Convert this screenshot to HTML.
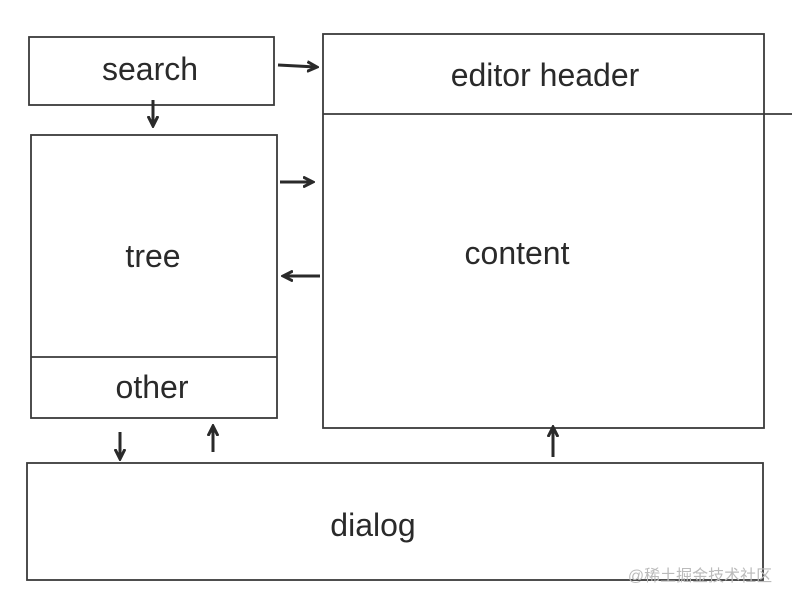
<!DOCTYPE html>
<html><head><meta charset="utf-8"><style>
html,body{margin:0;padding:0;background:#fff;}
svg{display:block}
text{font-family:"Liberation Sans","DejaVu Sans",sans-serif;fill:#2a2a2a;}
</style></head><body>
<svg width="792" height="602" viewBox="0 0 792 602" xmlns="http://www.w3.org/2000/svg">
<defs>
<marker id="a" markerWidth="12" markerHeight="12" refX="9" refY="6" orient="auto" markerUnits="userSpaceOnUse">
<path d="M0,1 L10,6 L0,11" fill="none" stroke="#2a2a2a" stroke-width="3"/></marker>
</defs>
<g fill="none" stroke="#3a3a3a" stroke-width="1.8">
<rect x="29" y="37" width="245" height="68"/>
<rect x="31" y="135" width="246" height="283"/>
<line x1="31" y1="357" x2="277" y2="357"/>
<rect x="323" y="34" width="441" height="394"/>
<line x1="323" y1="114" x2="792" y2="114"/>
<rect x="27" y="463" width="736" height="117"/>
</g>
<g stroke="#2a2a2a" stroke-width="3" marker-end="url(#a)">
<line x1="278" y1="65" x2="316" y2="67"/>
<line x1="153" y1="100" x2="153" y2="125"/>
<line x1="280" y1="182" x2="312" y2="182"/>
<line x1="320" y1="276" x2="284" y2="276"/>
<line x1="120" y1="432" x2="120" y2="458"/>
<line x1="213" y1="452" x2="213" y2="427"/>
<line x1="553" y1="457" x2="553" y2="428"/>
</g>
<g font-size="32" text-anchor="middle">
<text x="150" y="80">search</text>
<text x="545" y="86">editor header</text>
<text x="153" y="267">tree</text>
<text x="517" y="264">content</text>
<text x="152" y="398">other</text>
<text x="373" y="536">dialog</text>
</g>
<text x="700" y="581" font-size="16" text-anchor="middle" style="fill:#bbb;font-family:'Liberation Sans','Noto Sans CJK SC',sans-serif">@稀土掘金技术社区</text>
</svg>
</body></html>
